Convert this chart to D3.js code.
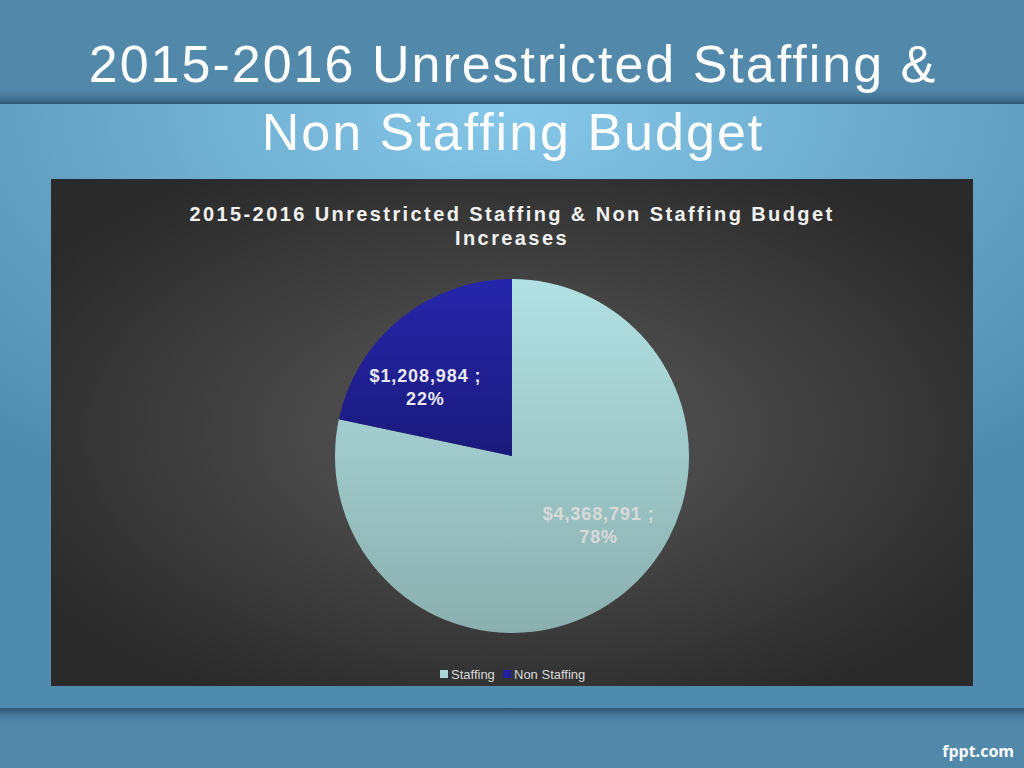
<!DOCTYPE html>
<html><head><meta charset="utf-8">
<script src="https://cdnjs.cloudflare.com/ajax/libs/d3/7.8.5/d3.min.js"></script>
<style>html,body{margin:0;padding:0;background:#5289aa;}svg{display:block;}</style>
</head><body>
<script>
const categories = ["Staffing", "Non Staffing"];
const values = [4368791, 1208984];
const percentLabels = ["78%", "22%"];
const slideTitle = ["2015-2016 Unrestricted Staffing &", "Non Staffing Budget"];
const chartTitle = ["2015-2016 Unrestricted Staffing & Non Staffing Budget", "Increases"];

const W = 1024, H = 768;
const svg = d3.select("body").append("svg").attr("width", W).attr("height", H);
const defs = svg.append("defs");

// backgrounds
const mid = defs.append("radialGradient").attr("id","mid").attr("cx","0.5").attr("cy","0").attr("r","0.75").attr("gradientUnits","objectBoundingBox");
mid.append("stop").attr("offset","0%").attr("stop-color","#86c8ea");
mid.append("stop").attr("offset","100%").attr("stop-color","#4f8bae");
const shTop = defs.append("linearGradient").attr("id","shTop").attr("x1",0).attr("y1",0).attr("x2",0).attr("y2",1);
shTop.append("stop").attr("offset","0%").attr("stop-color","#5289aa").attr("stop-opacity",0);
shTop.append("stop").attr("offset","100%").attr("stop-color","#2e5772");
const shBot = defs.append("linearGradient").attr("id","shBot").attr("x1",0).attr("y1",0).attr("x2",0).attr("y2",1);
shBot.append("stop").attr("offset","0%").attr("stop-color","#2e5772");
shBot.append("stop").attr("offset","100%").attr("stop-color","#5289aa").attr("stop-opacity",0);

svg.append("rect").attr("x",0).attr("y",0).attr("width",W).attr("height",H).attr("fill","#5289aa");
svg.append("rect").attr("x",0).attr("y",104).attr("width",W).attr("height",604).attr("fill","url(#mid)");
svg.append("rect").attr("x",0).attr("y",86).attr("width",W).attr("height",18).attr("fill","url(#shTop)");
svg.append("rect").attr("x",0).attr("y",708).attr("width",W).attr("height",18).attr("fill","url(#shBot)");

// slide title
svg.append("g").selectAll("text").data(slideTitle).join("text")
  .attr("x", 513).attr("y",(d,i)=>82+i*68).attr("text-anchor","middle")
  .attr("font-family","Liberation Sans, Arial, sans-serif").attr("font-size",52)
  .attr("letter-spacing","2px")
  .attr("fill","#ffffff").text(d=>d);

// chart area
const cg = defs.append("radialGradient").attr("id","cg").attr("cx","0.5").attr("cy","0.5").attr("r","0.6");
cg.append("stop").attr("offset","0%").attr("stop-color","#5a5a5a");
cg.append("stop").attr("offset","100%").attr("stop-color","#2a2a2a");
svg.append("rect").attr("x",51).attr("y",179).attr("width",922).attr("height",507).attr("fill","url(#cg)");

svg.append("g").selectAll("text").data(chartTitle).join("text")
  .attr("x",512).attr("y",(d,i)=>221+i*24).attr("text-anchor","middle")
  .attr("font-family","Liberation Sans, Arial, sans-serif").attr("font-size",20).attr("font-weight","bold")
  .attr("letter-spacing","2.4px").attr("fill","#f2f2f2").text(d=>d);

// pie
const colors = [["#b2e1e3","#8aafaf"],["#2626ac","#1a1a7c"]];
const cx = 512, cy = 456, r = 177;
const pie = d3.pie().sort(null).value(d=>d)(values);
const arc = d3.arc().innerRadius(0).outerRadius(r);
const pg = svg.append("g").attr("transform",`translate(${cx},${cy})`);
colors.forEach((c,i)=>{
  const g = defs.append("linearGradient").attr("id","sg"+i).attr("gradientUnits","userSpaceOnUse")
    .attr("x1",0).attr("y1",-r).attr("x2",0).attr("y2", i===0 ? r : 0);
  g.append("stop").attr("offset","0%").attr("stop-color",c[0]);
  g.append("stop").attr("offset","100%").attr("stop-color",c[1]);
});
pg.selectAll("path").data(pie).join("path")
  .attr("d",arc).attr("fill",(d,i)=>`url(#sg${i})`);

// labels: placed at ~0.62r, rotated slightly counter-clockwise from slice middle
const labelArc = d3.arc().innerRadius(r*0.625).outerRadius(r*0.625);
const shift = -12.5*Math.PI/180;
const fmt = d3.format("$,");
const labelColors = ["#d9d9d9","#e8e8f0"];
pie.forEach((d,i)=>{
  const a = (d.startAngle+d.endAngle)/2 + shift;
  const [lx,ly] = labelArc.centroid({startAngle:a, endAngle:a});
  const t = pg.append("text").attr("text-anchor","middle")
    .attr("font-family","Liberation Sans, Arial, sans-serif").attr("font-size",18).attr("font-weight","bold")
    .attr("letter-spacing","0.9px")
    .attr("fill",labelColors[i]);
  t.append("tspan").attr("x",lx).attr("y",ly-5).text(fmt(values[i])+" ;");
  t.append("tspan").attr("x",lx).attr("y",ly+18).text(percentLabels[i]);
});

// legend
const legendColors = ["#a9d8da","#2222a0"];
const lg = svg.append("g").attr("font-family","Liberation Sans, Arial, sans-serif").attr("font-size",13).attr("fill","#d9d9d9");
const lx0 = [440, 503];
categories.forEach((c,i)=>{
  lg.append("rect").attr("x",lx0[i]).attr("y",670).attr("width",8).attr("height",8).attr("fill",legendColors[i]);
  lg.append("text").attr("x",lx0[i]+11).attr("y",679).text(c);
});

// logo
svg.append("text").attr("x",1014).attr("y",757).attr("text-anchor","end")
  .attr("font-family","Open Sans, Liberation Sans, sans-serif").attr("font-weight","bold").attr("font-size",16)
  .attr("fill","#ffffff").text("fppt.com");
</script>
</body></html>
